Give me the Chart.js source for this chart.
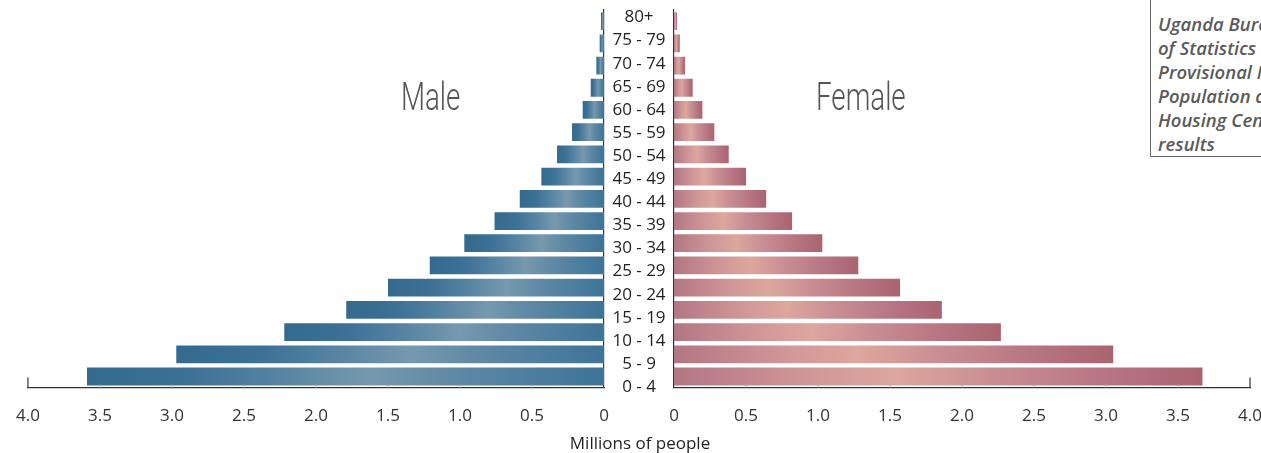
<!DOCTYPE html>
<html>
<head>
<meta charset="utf-8">
<script src="https://cdn.jsdelivr.net/npm/chart.js@4.4.1/dist/chart.umd.min.js"></script>
<style>
  html, body { margin: 0; padding: 0; background: #fff; }
  #wrap { position: relative; width: 1261px; height: 453px; overflow: hidden; background: #fff; }
  #maleChart { position: absolute; left: -2px; top: 0; }
  #femaleChart { position: absolute; left: 604px; top: 0; }
  .sexLabel { position: absolute; font-family: Roboto, sans-serif; font-weight: 300; font-size: 38px; color: #555; transform: scaleX(0.73); transform-origin: left top; line-height: 1; white-space: nowrap; }
  #axisTitle { position: absolute; left: 0; width: 1280px; top: 433px; text-align: center; font-family: "Open Sans", sans-serif; font-size: 17px; color: #231f20; line-height: 20px; }
  #source { position: absolute; left: 1150px; top: -2px; width: 220px; height: 159px; border: 1.5px solid #666; box-sizing: border-box; padding: 13px 0 0 7px; font-family: "Open Sans", sans-serif; font-style: italic; font-weight: 600; font-size: 18.5px; line-height: 24px; color: #5a5a5a; white-space: nowrap; background: #fff; }
</style>
</head>
<body>
<div id="wrap">
  <canvas id="maleChart" width="676" height="453"></canvas>
  <canvas id="femaleChart" width="676" height="453"></canvas>
  <div class="sexLabel" id="maleLabel" style="left:401px; top:78px;">Male</div>
  <div class="sexLabel" id="femaleLabel" style="left:816px; top:78px;">Female</div>
  <div id="axisTitle">Millions of people</div>
  <div id="source">Uganda Bureau<br>of Statistics<br>Provisional National<br>Population and<br>Housing Census<br>results</div>
</div>
<script>
// ---- data (millions of people) ----
const ageGroups = ["0 - 4","5 - 9","10 - 14","15 - 19","20 - 24","25 - 29","30 - 34","35 - 39","40 - 44","45 - 49","50 - 54","55 - 59","60 - 64","65 - 69","70 - 74","75 - 79","80+"];
const maleValues = [3.59, 2.97, 2.22, 1.79, 1.50, 1.21, 0.97, 0.76, 0.585, 0.435, 0.326, 0.222, 0.148, 0.092, 0.053, 0.030, 0.021];
const femaleValues = [3.67, 3.05, 2.27, 1.86, 1.57, 1.28, 1.03, 0.82, 0.64, 0.50, 0.38, 0.28, 0.197, 0.13, 0.077, 0.040, 0.021];
const axisMin = 0, axisMax = 4, axisStep = 0.5;

const maleStops = [[0, '#3d7498'], [0.3, '#6089a5'], [0.45, '#7699ae'], [0.6, '#5b87a4'], [0.8, '#3d7196'], [1, '#336a8e']];
const femaleStops = [[0, '#b37684'], [0.25, '#cf9697'], [0.42, '#dca79d'], [0.6, '#c98e94'], [0.85, '#b4727f'], [1, '#a9646f']];

function barGradient(stops) {
  return function(ctx) {
    const chart = ctx.chart;
    if (!chart.chartArea || !ctx.parsed) return stops[0][1];
    const xs = chart.scales.x;
    const x0 = xs.getPixelForValue(0);
    let x1 = xs.getPixelForValue(ctx.parsed.x);
    if (Math.abs(x1 - x0) < 1) x1 = x0 + (x1 >= x0 ? 1 : -1);
    const g = chart.ctx.createLinearGradient(x0, 0, x1, 0);
    stops.forEach(s => g.addColorStop(s[0], s[1]));
    return g;
  };
}

// small inward tick marks on the value axis
const innerTicks = {
  id: 'innerTicks',
  afterDraw(chart) {
    const xs = chart.scales.x;
    const c = chart.ctx;
    const bottom = chart.chartArea.bottom;
    c.save();
    xs.ticks.forEach(t => {
      const x = xs.getPixelForValue(t.value);
      if (t.value === 0) return;
      c.beginPath();
      if (t.value === axisMax) {
        c.strokeStyle = '#333'; c.lineWidth = 1.2;
        c.moveTo(x, bottom); c.lineTo(x, bottom - 10);
      } else {
        c.strokeStyle = '#aaa'; c.lineWidth = 1;
        c.moveTo(x, bottom); c.lineTo(x, bottom - 3);
      }
      c.stroke();
    });
    c.restore();
  }
};

// age group labels centred in the gap between the two halves (male chart only)
const centerLabels = {
  id: 'centerLabels',
  afterDraw(chart) {
    const ys = chart.scales.y;
    const ca = chart.chartArea;
    const c = chart.ctx;
    const mid = (ca.top + ca.bottom) / 2;
    c.save();
    c.font = '17px "Open Sans", sans-serif';
    c.fillStyle = '#231f20';
    c.textAlign = 'center';
    c.textBaseline = 'middle';
    ageGroups.forEach((lab, i) => {
      const y = ys.getPixelForValue(i);
      c.fillText(lab, ca.right + 35, mid + 3.5 + (y - mid) * 1.04);
    });
    c.restore();
  }
};

function fmt(v) { return v === 0 ? '0' : Number(v).toFixed(1); }

const tickFont = { family: '"Open Sans", sans-serif', size: 17 };

function makeChart(id, values, stops, isMale) {
  return new Chart(document.getElementById(id), {
    type: 'bar',
    data: {
      labels: ageGroups,
      datasets: [{
        data: values,
        backgroundColor: barGradient(stops),
        borderWidth: 0,
        barPercentage: 0.8,
        categoryPercentage: 1.0
      }]
    },
    options: {
      indexAxis: 'y',
      responsive: false,
      animation: false,
      layout: { padding: isMale ? { left: 26, right: 0, top: 10, bottom: 9 } : { left: 0, right: 30, top: 10, bottom: 9 } },
      plugins: { legend: { display: false }, tooltip: { enabled: false } },
      scales: {
        x: {
          min: axisMin, max: axisMax,
          reverse: isMale,
          grid: { display: false, drawTicks: false },
          border: { display: true, color: '#333', width: 1.2 },
          ticks: { stepSize: axisStep, callback: v => fmt(v), color: '#333', font: tickFont, padding: 18, maxRotation: 0, autoSkip: false }
        },
        y: {
          reverse: true,
          position: isMale ? 'right' : 'left',
          grid: { display: false, drawTicks: false },
          border: { display: true, color: '#333', width: 1.2 },
          ticks: { display: false },
          afterFit: s => { s.width = 70; }
        }
      }
    },
    plugins: isMale ? [innerTicks, centerLabels] : [innerTicks]
  });
}

makeChart('maleChart', maleValues, maleStops, true);
makeChart('femaleChart', femaleValues, femaleStops, false);
</script>
</body>
</html>
